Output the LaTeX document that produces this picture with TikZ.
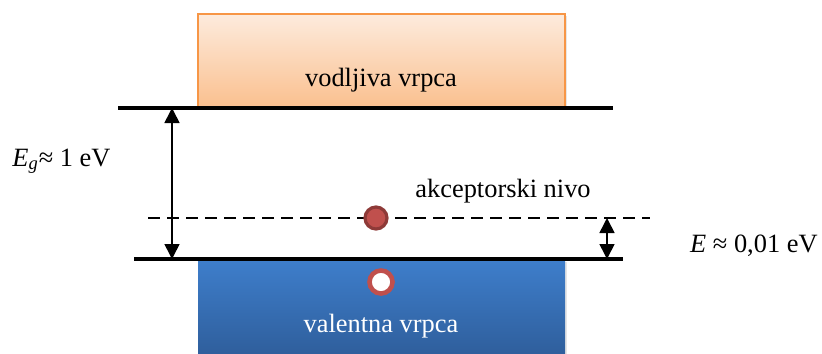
\documentclass[tikz,border=0pt]{standalone}
\usepackage{fontspec}
\setmainfont{Liberation Serif}
\usetikzlibrary{arrows.meta,shadows}
\definecolor{condTop}{HTML}{FDEBDD}
\definecolor{condBot}{HTML}{FAC08F}
\definecolor{condEdge}{HTML}{F79646}
\definecolor{valTop}{HTML}{3E7ECB}
\definecolor{valBot}{HTML}{2F5F9D}
\definecolor{holeRed}{HTML}{C0504D}
\definecolor{holeDark}{HTML}{8E3A38}
\tikzset{
  band/.style={rectangle, minimum width=183.5pt, minimum height=46.5pt, inner sep=0pt,
    drop shadow={opacity=0.2, shadow xshift=1pt, shadow yshift=-1pt}},
  condBand/.style={band, draw=condEdge, line width=0.8pt, top color=condTop, bottom color=condBot},
  valBand/.style={band, top color=valTop, bottom color=valBot},
  level/.style={draw=black, line width=1.6pt},
  accLevel/.style={draw=black, line width=0.8pt, dash pattern=on 6pt off 3.5pt},
  gapArrow/.style={draw=black, line width=0.8pt, {Triangle[length=7.5pt,width=7.5pt]}-{Triangle[length=7.5pt,width=7.5pt]}},
  lbl/.style={font=\fontsize{13.2}{15}\selectfont, inner sep=0pt},
  accDot/.style={circle, minimum size=11pt, inner sep=0pt, fill=holeRed, draw=holeDark, line width=1.6pt},
  holeDot/.style={circle, minimum size=11.5pt, inner sep=0pt, fill=white, draw=holeRed, line width=2.3pt},
}
\newcommand{\LevelCoords}{%
  \coordinate (topL) at (118,108);
  \coordinate (topR) at (613,108);
  \coordinate (botL) at (134,259);
  \coordinate (botR) at (623,259);
  \coordinate (accL) at (148,218);
  \coordinate (accR) at (650,218);
  \coordinate (egTop) at (172,108);
  \coordinate (egBot) at (172,259);
  \coordinate (eaTop) at (607,218);
  \coordinate (eaBot) at (607,259);
}
\begin{document}
\begin{tikzpicture}[x=0.5pt, y=-0.5pt]
  \useasboundingbox (0,0) rectangle (822,353);
  \LevelCoords

  % bands
  \node[condBand] (cond) at (381.5,60.5) {};
  \node[valBand]  (val)  at (381.5,306.5) {};
  \node[lbl, anchor=base] (condTxt) at (381,87) {vodljiva vrpca};
  \node[lbl, anchor=base, text=white] (valTxt) at (381,332) {valentna vrpca};

  % levels
  \draw[level] (topL) -- (topR);
  \draw[level] (botL) -- (botR);
  \draw[accLevel] (accL) -- (accR);

  \draw[gapArrow] (egTop) -- (egBot);
  \draw[gapArrow] (eaTop) -- (eaBot);

  \node[accDot]  (acc)  at (376,218) {};
  \node[holeDot] (hole) at (381,282) {};

  \node[lbl, anchor=base west] (accTxt) at (415,197) {akceptorski nivo};
  \node[lbl, anchor=base west] (egTxt) at (12,166) {\textit{E}\textsubscript{\textit{g}}≈ 1 eV};
  \node[lbl, anchor=base east] (eaTxt) at (818,252) {\textit{E} ≈ 0,01 eV};
\end{tikzpicture}
\end{document}
